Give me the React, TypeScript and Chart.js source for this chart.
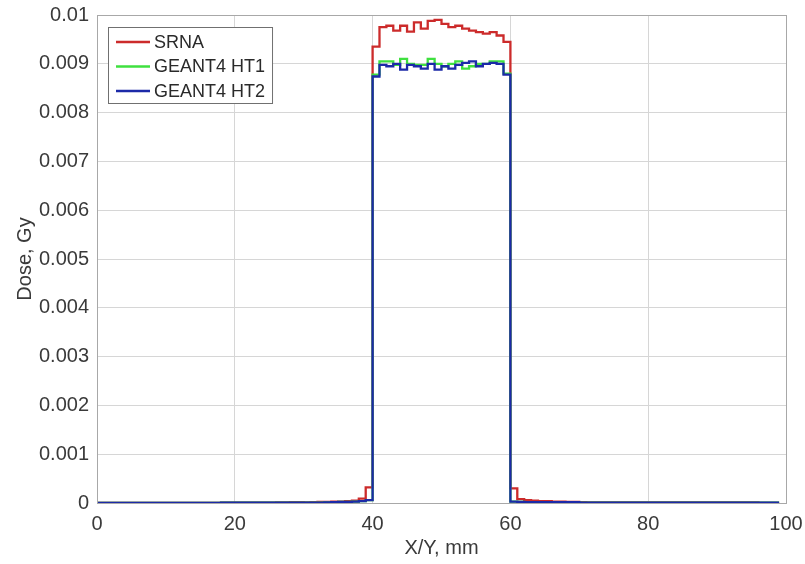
import { useEffect, useRef } from "react";
import { Chart, registerables } from "chart.js";

Chart.register(...registerables);

// X positions of the bins (mm)
const xPositions = [
  0, 1, 2, 3, 4, 5, 6, 7, 8, 9, 10, 11, 12, 13, 14, 15, 16, 17, 18, 19,
  20, 21, 22, 23, 24, 25, 26, 27, 28, 29, 30, 31, 32, 33, 34, 35, 36, 37, 38, 39,
  40, 41, 42, 43, 44, 45, 46, 47, 48, 49, 50, 51, 52, 53, 54, 55, 56, 57, 58, 59,
  60, 61, 62, 63, 64, 65, 66, 67, 68, 69, 70, 71, 72, 73, 74, 75, 76, 77, 78, 79,
  80, 81, 82, 83, 84, 85, 86, 87, 88, 89, 90, 91, 92, 93, 94, 95, 96, 97, 98, 99,
];

const srna = [
  0, 0, 0, 0, 0, 0, 0, 0, 0, 0, 0, 0, 0, 0, 0, 0, 0, 0, 0.000005, 0.000005,
  0.000005, 0.000005, 0.000005, 0.000005, 0.000008, 0.000008, 0.00001, 0.00001, 0.000015, 0.000015,
  0.00001, 0.000015, 0.00002, 0.00002, 0.00003, 0.00003, 0.00004, 0.00005, 0.00009, 0.00032,
  0.00935, 0.00975, 0.00978, 0.00968, 0.00978, 0.00966, 0.00985, 0.00972, 0.00988, 0.0099,
  0.00982, 0.00975, 0.00978, 0.00972, 0.00968, 0.00965, 0.00962, 0.00965, 0.00958, 0.00945,
  0.0003, 0.00008, 0.00006, 0.00005, 0.00004, 0.00004, 0.00003, 0.00003, 0.00002, 0.00002,
  0.000015, 0.00001, 0.00001, 0.00001, 0.00001, 0.00001, 0.00001, 0.00001, 0.00001, 0.00001,
  0.00001, 0.00001, 0.00001, 0.00001, 0.00001, 0.00001, 0.00001, 0.00001, 0.00001, 0.00001,
  0.00001, 0.00001, 0.00001, 0.00001, 0.00001, 0.00001, 0, 0, 0, 0,
];

const geant4Ht1 = [
  0, 0, 0, 0, 0, 0, 0, 0, 0, 0, 0, 0, 0, 0, 0, 0, 0, 0, 0.000005, 0.000005,
  0.000005, 0.000005, 0.000005, 0.000005, 0.000005, 0.000005, 0.000005, 0.000005, 0.000005, 0.000005,
  0.000005, 0.000005, 0.000005, 0.00001, 0.000015, 0.00002, 0.00002, 0.00003, 0.00004, 0.00006,
  0.00878, 0.00905, 0.00905, 0.00898, 0.0091, 0.009, 0.00898, 0.00898, 0.0091, 0.009,
  0.00895, 0.009, 0.00905, 0.0089, 0.00895, 0.009, 0.009, 0.00905, 0.00905, 0.0088,
  0.00003, 0.00002, 0.000015, 0.000015, 0.000015, 0.000015, 0.000015, 0.000015, 0.000015, 0.000015,
  0.000008, 0.000008, 0.000008, 0.000008, 0.000008, 0.000008, 0.000008, 0.000008, 0.000008, 0.000008,
  0.000005, 0.000005, 0.000005, 0.000005, 0.000005, 0.000005, 0.000005, 0.000005, 0.000005, 0.000005,
  0.000005, 0.000005, 0.000005, 0.000005, 0.000005, 0.000005, 0.000005, 0.000005, 0.000005, 0.000005,
];

const geant4Ht2 = [
  0, 0, 0, 0, 0, 0, 0, 0, 0, 0, 0, 0, 0, 0, 0, 0, 0, 0, 0.000005, 0.000005,
  0.000005, 0.000005, 0.000005, 0.000005, 0.000005, 0.000005, 0.000005, 0.000005, 0.000005, 0.000005,
  0.000005, 0.000005, 0.000005, 0.00001, 0.000015, 0.00002, 0.00002, 0.00003, 0.00004, 0.00006,
  0.00874, 0.00898, 0.00895, 0.009, 0.00888, 0.00898, 0.00895, 0.0089, 0.009, 0.00888,
  0.00895, 0.0089, 0.00898, 0.00902, 0.00905, 0.00895, 0.009, 0.00902, 0.009, 0.00878,
  0.00003, 0.00002, 0.000015, 0.000015, 0.000015, 0.000015, 0.000015, 0.000015, 0.000015, 0.000015,
  0.000008, 0.000008, 0.000008, 0.000008, 0.000008, 0.000008, 0.000008, 0.000008, 0.000008, 0.000008,
  0.000005, 0.000005, 0.000005, 0.000005, 0.000005, 0.000005, 0.000005, 0.000005, 0.000005, 0.000005,
  0.000005, 0.000005, 0.000005, 0.000005, 0.000005, 0.000005, 0.000005, 0.000005, 0.000005, 0.000005,
];

const seriesNames = ["SRNA", "GEANT4 HT1", "GEANT4 HT2"];
const seriesColors = ["#cc2b2b", "#3fe03f", "#1c2aa8"];
const xTicks = [0, 20, 40, 60, 80, 100];
const yTicks = [0, 0.001, 0.002, 0.003, 0.004, 0.005, 0.006, 0.007, 0.008, 0.009, 0.01];
const xTitle = "X/Y, mm";
const yTitle = "Dose, Gy";

const FONT = "'Liberation Sans', Arial, Helvetica, sans-serif";
const GRID = "#d6d6d6";
const AXIS = "#a8a8a8";
const TEXT = "#3a3a3a";

const boxPlugin = {
  id: "boxAndLegend",
  afterDraw(chart: any) {
    const { ctx, chartArea } = chart;
    ctx.save();
    // axes box (top and right sides)
    ctx.strokeStyle = AXIS;
    ctx.lineWidth = 1;
    ctx.strokeRect(
      Math.round(chartArea.left) + 0.5,
      Math.round(chartArea.top) + 0.5,
      Math.round(chartArea.right - chartArea.left),
      Math.round(chartArea.bottom - chartArea.top)
    );
    // legend
    ctx.font = `18px ${FONT}`;
    const left = 108;
    const top = 27;
    const rowH = 24.5;
    const lineX0 = 116;
    const lineX1 = 150;
    const textX = 154;
    let maxW = 0;
    seriesNames.forEach((n) => {
      maxW = Math.max(maxW, ctx.measureText(n).width);
    });
    const width = textX + maxW + 7 - left;
    const height = 76;
    ctx.fillStyle = "#ffffff";
    ctx.fillRect(left, top, width, height);
    ctx.strokeStyle = "#707070";
    ctx.strokeRect(left + 0.5, top + 0.5, width, height);
    seriesNames.forEach((n, i) => {
      const y = top + 15 + i * rowH;
      ctx.strokeStyle = seriesColors[i];
      ctx.lineWidth = 2.5;
      ctx.beginPath();
      ctx.moveTo(lineX0, y);
      ctx.lineTo(lineX1, y);
      ctx.stroke();
      ctx.fillStyle = "#2a2a2a";
      ctx.textBaseline = "middle";
      ctx.textAlign = "left";
      ctx.fillText(n, textX, y + 1);
    });
    ctx.restore();
  },
};

export default function App() {
  const canvasRef = useRef<HTMLCanvasElement | null>(null);

  useEffect(() => {
    if (!canvasRef.current) return;
    const series = [srna, geant4Ht1, geant4Ht2];
    // draw order: last series on top -> reverse array (Chart.js draws index 0 on top)
    const datasets = [2, 1, 0].map((i) => ({
      label: seriesNames[i],
      data: xPositions.map((x, k) => ({ x, y: series[i][k] })),
      borderColor: seriesColors[i],
      backgroundColor: seriesColors[i],
      borderWidth: 2.3,
      pointRadius: 0,
      stepped: "before" as const,
      fill: false,
    }));

    const chart = new Chart(canvasRef.current, {
      type: "line",
      data: { datasets },
      plugins: [boxPlugin],
      options: {
        animation: false,
        responsive: false,
        maintainAspectRatio: false,
        layout: { padding: { top: 15, right: 19, left: 0, bottom: 0 } },
        plugins: {
          legend: { display: false },
          tooltip: { enabled: false },
        },
        scales: {
          x: {
            type: "linear",
            min: 0,
            max: 100,
            afterBuildTicks: (scale: any) => {
              scale.ticks = xTicks.map((v) => ({ value: v }));
            },
            afterFit: (scale: any) => {
              scale.height = 61;
              scale.paddingLeft = 0;
              scale.paddingRight = 0;
            },
            ticks: {
              font: { family: FONT, size: 20 },
              color: TEXT,
              padding: 9,
              maxRotation: 0,
              callback: (v: any) => String(v),
            },
            grid: { color: GRID, drawTicks: false },
            border: { color: AXIS },
            title: {
              display: true,
              text: xTitle,
              font: { family: FONT, size: 20 },
              color: TEXT,
              padding: { top: 0, bottom: 4 },
            },
          },
          y: {
            type: "linear",
            min: 0,
            max: 0.01,
            afterBuildTicks: (scale: any) => {
              scale.ticks = yTicks.map((v) => ({ value: v }));
            },
            afterFit: (scale: any) => {
              scale.width = 97;
              scale.paddingTop = 0;
              scale.paddingBottom = 0;
            },
            ticks: {
              font: { family: FONT, size: 20 },
              color: TEXT,
              padding: 8,
              callback: (v: any) => String(Number(Number(v).toFixed(4))),
            },
            grid: { color: GRID, drawTicks: false },
            border: { color: AXIS },
            title: {
              display: true,
              text: yTitle,
              font: { family: FONT, size: 20 },
              color: TEXT,
              padding: { top: 13, bottom: 0 },
            },
          },
        },
      },
    });
    return () => chart.destroy();
  }, []);

  return (
    <div style={{ position: "fixed", left: 0, top: 0, width: 805, height: 564, background: "#fff" }}>
      <canvas ref={canvasRef} width={805} height={564} style={{ width: 805, height: 564, display: "block" }} />
    </div>
  );
}
